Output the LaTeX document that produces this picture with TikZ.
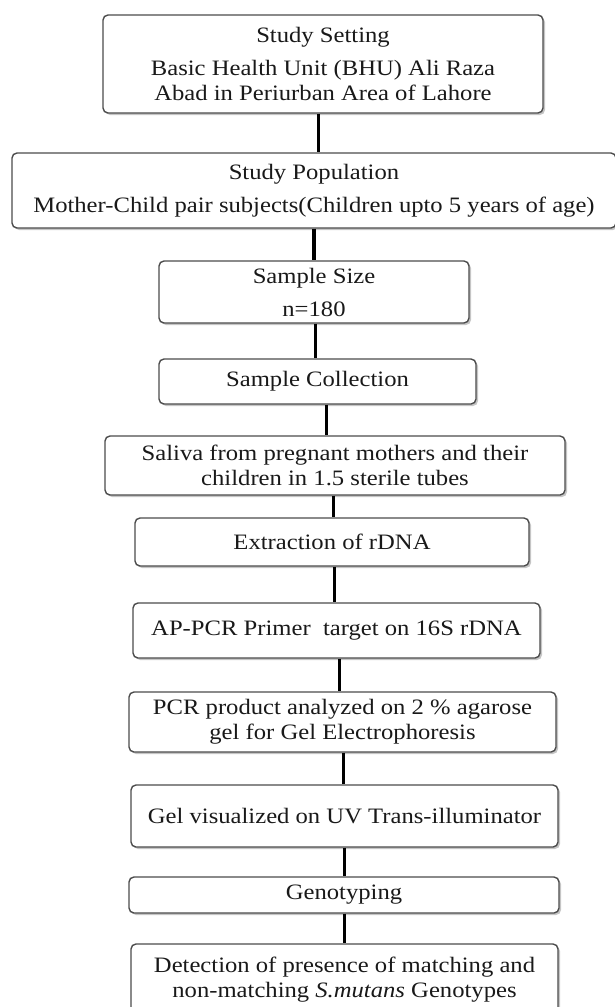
\documentclass[tikz,border=0pt]{standalone}
\usepackage{fontspec}
\setmainfont{Liberation Serif}[FakeStretch=1.12]
\usetikzlibrary{shadows,calc}
\newcommand{\smutans}{\textit{S.mutans}}

\begin{document}
\begin{tikzpicture}[
  x=0.5pt,y=-0.5pt,
  link/.style={line width=1.7pt,black}]
\tikzstyle{stage}=[draw=black!70,line width=0.7pt,fill=white,rounded corners=2.5pt,
  align=center,inner sep=0pt,text=black!90,font=\fontsize{11}{12.5}\selectfont,
  drop shadow={shadow xshift=1pt,shadow yshift=-1pt,fill=black!45}]
\useasboundingbox (0,0) rectangle (615,1007);
\node[stage,minimum width=220pt,minimum height=49pt] (setting) at (323,64)
  {Study Setting\\[4pt] Basic Health Unit (BHU) Ali Raza\\Abad in Periurban Area of Lahore};
\node[stage,minimum width=302pt,minimum height=37.5pt] (population) at (314,190.5)
  {Study Population\\[4pt]Mother-Child pair subjects(Children upto 5 years of age)};
\node[stage,minimum width=155pt,minimum height=31pt] (size) at (314,292)
  {Sample Size\\[4pt]n=180};
\node[stage,minimum width=158.5pt,minimum height=22.5pt] (collection) at (317.5,381.5)
  {Sample Collection};
\node[stage,minimum width=230pt,minimum height=29.5pt] (saliva) at (335,465.5)
  {Saliva from pregnant mothers and their\\children in 1.5 sterile tubes};
\node[stage,minimum width=197pt,minimum height=24pt] (extraction) at (332,542)
  {Extraction of rDNA};
\node[stage,minimum width=203.5pt,minimum height=27.5pt] (primer) at (336.5,630.5)
  {AP-PCR Primer\ \ target on 16S rDNA};
\node[stage,minimum width=213.5pt,minimum height=30pt] (product) at (342.5,722)
  {PCR product analyzed on 2 \% agarose\\gel for Gel Electrophoresis};
\node[stage,minimum width=213.5pt,minimum height=31pt] (gel) at (344.5,816)
  {Gel visualized on UV Trans-illuminator};
\node[stage,minimum width=215pt,minimum height=18pt] (genotyping) at (344,895)
  {Genotyping};
\node[stage,minimum width=213.5pt,minimum height=36pt] (detection) at (344.5,980)
  {Detection of presence of matching and\\non-matching \smutans{} Genotypes};
\foreach \a/\b in {setting/population,population/size,size/collection,collection/saliva,
  saliva/extraction,extraction/primer,primer/product,product/gel,gel/genotyping,genotyping/detection}{
  \path ($(\a.center)!.5!(\b.center)$) coordinate (mid);
  \draw[link] (\a.south -| mid) -- (\b.north -| mid);
}
\end{tikzpicture}
\end{document}
